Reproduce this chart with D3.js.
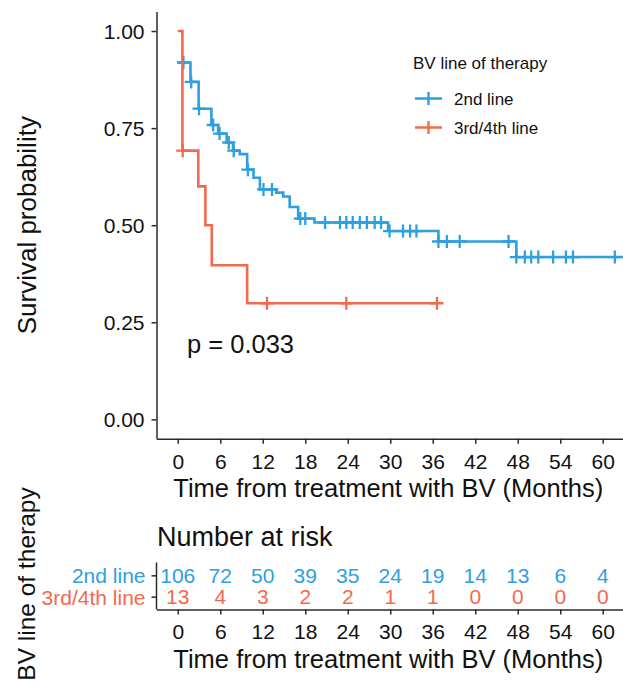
<!DOCTYPE html>
<html>
<head>
<meta charset="utf-8">
<script src="https://cdn.jsdelivr.net/npm/d3@7"></script>
<style>
  html, body { margin: 0; padding: 0; background: #fff; }
  svg { display: block; font-family: "Liberation Sans", Arial, sans-serif; }
</style>
</head>
<body>
<svg id="chart" width="623" height="686"></svg>
<script>
// Kaplan-Meier steps (months, survival probability)
const groups = ['2nd line', '3rd/4th line'];

const blueTimes = [0, 1.8, 2.95, 4.75, 5.7, 6.9, 7.8, 8.75, 9.8, 10.7, 11.6, 13.9, 14.9, 15.8, 17.0, 19.3, 29.7, 36.8, 47.8];
const blueSurv = [0.919, 0.869, 0.80, 0.758, 0.736, 0.713, 0.692, 0.683, 0.643, 0.622, 0.592, 0.584, 0.574, 0.547, 0.517, 0.507, 0.485, 0.458, 0.418];
const blueEnd = 63.5;
const blueCensor = [0.8, 1.9, 3.0, 5.0, 5.9, 7.2, 7.9, 9.9, 12.1, 13.3, 17.3, 18.0, 20.8, 22.9, 23.8, 24.7, 25.7,
  26.7, 27.8, 28.7, 29.9, 31.8, 32.8, 33.7, 36.8, 38.0, 39.8, 46.7, 47.8, 49.0, 49.9, 50.9, 53.0, 54.8, 55.8, 61.7];

const redTimes = [0, 0.66, 2.9, 3.9, 4.8, 9.8];
const redSurv = [1.0, 0.692, 0.60, 0.50, 0.397, 0.299];
const redEnd = 36.6;
const redCensor = [0.7, 12.6, 23.8, 36.6];

// Number at risk table
const riskTimes = [0, 6, 12, 18, 24, 30, 36, 42, 48, 54, 60];
const blueRisk = [106, 72, 50, 39, 35, 24, 19, 14, 13, 6, 4];
const redRisk = [13, 4, 3, 2, 2, 1, 1, 0, 0, 0, 0];

const yTicks = [0, 0.25, 0.5, 0.75, 1];
const pLabel = 'p = 0.033';
const xTitle = 'Time from treatment with BV (Months)';

const BLUE = '#2E9FDF';
const RED = '#F4694E';
const AXIS = '#2b2b2b';
const TEXT = '#111';

const series = [
  { name: groups[0], color: BLUE, times: blueTimes, surv: blueSurv, end: blueEnd, censor: blueCensor, risk: blueRisk },
  { name: groups[1], color: RED, times: redTimes, surv: redSurv, end: redEnd, censor: redCensor, risk: redRisk },
];

const svg = d3.select('#chart');

const panel = { left: 156.5, right: 624, top: 11.6, bottom: 438.8 };
const risk = { top: 562.5, bottom: 609.5 };

const x = d3.scaleLinear().domain([-3, 63]).range([panel.left, panel.right]);
const y = d3.scaleLinear().domain([-0.05, 1.05]).range([panel.bottom, panel.top]);
const yRisk = d3.scalePoint().domain(groups).range([risk.top, risk.bottom]).padding(0.6);

const styleAxis = (axis, fontSize) => {
  axis.select('.domain').attr('stroke', AXIS).attr('stroke-width', 1.5);
  axis.selectAll('.tick line').attr('stroke', AXIS).attr('stroke-width', 1.5);
  axis.selectAll('.tick text')
    .attr('fill', TEXT)
    .attr('font-size', fontSize)
    .attr('font-family', '"Liberation Sans", Arial, sans-serif');
};

svg.append('defs').append('clipPath').attr('id', 'panel-clip')
  .append('rect')
  .attr('x', panel.left).attr('y', panel.top)
  .attr('width', panel.right - panel.left).attr('height', panel.bottom - panel.top);

// Survival curves
const stepLine = d3.line().x((d) => x(d[0])).y((d) => y(d[1])).curve(d3.curveStepAfter);
const survAt = (s, t) => {
  let v = s.surv[0];
  s.times.forEach((tt, i) => { if (tt <= t) v = s.surv[i]; });
  return v;
};

const plot = svg.append('g').attr('clip-path', 'url(#panel-clip)');
const CROSS = 6.5;

for (const s of series) {
  const pts = s.times.map((t, i) => [t, s.surv[i]]);
  pts.push([s.end, s.surv[s.surv.length - 1]]);
  plot.append('path')
    .datum(pts)
    .attr('fill', 'none')
    .attr('stroke', s.color)
    .attr('stroke-width', 2.6)
    .attr('d', stepLine);

  plot.append('g').selectAll('path')
    .data(s.censor)
    .join('path')
    .attr('d', (t) => {
      const cx = x(t), cy = y(survAt(s, t));
      return `M${cx - CROSS},${cy}H${cx + CROSS}M${cx},${cy - CROSS}V${cy + CROSS}`;
    })
    .attr('stroke', s.color)
    .attr('stroke-width', 2.3)
    .attr('fill', 'none');
}

// Axes of the main panel
svg.append('g')
  .attr('transform', `translate(${panel.left},0)`)
  .call(d3.axisLeft(y).tickValues(yTicks).tickFormat(d3.format('.2f')).tickSize(5).tickSizeOuter(0).tickPadding(7))
  .call((a) => styleAxis(a, '21px'))
  .call((a) => a.selectAll('.tick text').attr('dy', '0.36em'));

svg.append('g')
  .attr('transform', `translate(0,${panel.bottom})`)
  .call(d3.axisBottom(x).tickValues(riskTimes).tickSize(5).tickSizeOuter(0).tickPadding(10))
  .call((a) => styleAxis(a, '21px'));

svg.append('text')
  .attr('x', (x(0) + x(60)) / 2 - 2)
  .attr('y', panel.bottom + 58)
  .attr('text-anchor', 'middle')
  .attr('font-size', '25.5px')
  .attr('fill', TEXT)
  .text(xTitle);

svg.append('text')
  .attr('transform', `translate(36,${(panel.top + panel.bottom) / 2}) rotate(-90)`)
  .attr('text-anchor', 'middle')
  .attr('font-size', '26px')
  .attr('fill', TEXT)
  .text('Survival probability');

svg.append('text')
  .attr('x', 187)
  .attr('y', 353)
  .attr('font-size', '25.5px')
  .attr('fill', TEXT)
  .text(pLabel);

// Legend
const legend = svg.append('g').attr('transform', 'translate(413,0)');
legend.append('text')
  .attr('x', 0).attr('y', 68.5)
  .attr('font-size', '17px')
  .attr('fill', TEXT)
  .text('BV line of therapy');

series.forEach((s, i) => {
  const cy = 98.5 + i * 29;
  legend.append('path')
    .attr('d', `M2,${cy}H29M15.5,${cy - CROSS}V${cy + CROSS}`)
    .attr('stroke', s.color)
    .attr('stroke-width', 2.4)
    .attr('fill', 'none');
  legend.append('text')
    .attr('x', 41).attr('y', cy + 6)
    .attr('font-size', '17px')
    .attr('fill', TEXT)
    .text(s.name);
});

// Number at risk table
svg.append('text')
  .attr('x', 157)
  .attr('y', 546)
  .attr('font-size', '27px')
  .attr('fill', TEXT)
  .text('Number at risk');

for (const s of series) {
  svg.append('g').selectAll('text')
    .data(riskTimes)
    .join('text')
    .attr('x', (t) => x(t))
    .attr('y', yRisk(s.name))
    .attr('dy', '0.36em')
    .attr('text-anchor', 'middle')
    .attr('font-size', '21px')
    .attr('fill', s.color)
    .text((t, i) => s.risk[i]);
}

svg.append('g')
  .attr('transform', `translate(${panel.left},0)`)
  .call(d3.axisLeft(yRisk).tickSize(5).tickSizeOuter(0).tickPadding(6))
  .call((a) => styleAxis(a, '21px'))
  .call((a) => a.selectAll('.tick text').attr('dy', '0.36em').attr('fill', (d) => (d === groups[0] ? BLUE : RED)))
  .call((a) => a.select('.domain').attr('d', `M0,${risk.top}V${risk.bottom}`));

svg.append('g')
  .attr('transform', `translate(0,${risk.bottom})`)
  .call(d3.axisBottom(x).tickValues(riskTimes).tickSize(5).tickSizeOuter(0).tickPadding(10))
  .call((a) => styleAxis(a, '21px'));

svg.append('text')
  .attr('x', (x(0) + x(60)) / 2 - 2)
  .attr('y', risk.bottom + 58)
  .attr('text-anchor', 'middle')
  .attr('font-size', '25.5px')
  .attr('fill', TEXT)
  .text(xTitle);

// Reference clips this title at the bottom edge; keep it just inside the frame
svg.append('text')
  .attr('transform', `translate(35,${(risk.top + risk.bottom) / 2 - 2}) rotate(-90)`)
  .attr('text-anchor', 'middle')
  .attr('font-size', '24.5px')
  .attr('fill', TEXT)
  .text('BV line of therapy');
</script>
</body>
</html>
